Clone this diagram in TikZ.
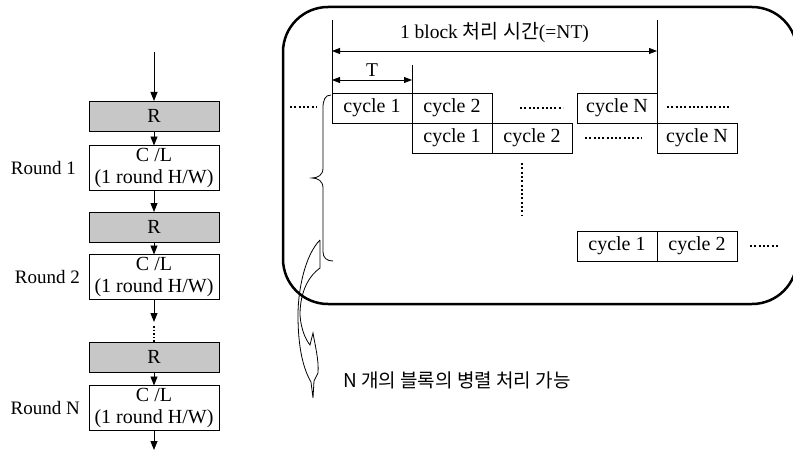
\documentclass[tikz,border=0pt]{standalone}
\usepackage{fontspec}
\setmainfont{Liberation Serif}
\newfontfamily\krfont{Noto Sans CJK KR}
\usetikzlibrary{positioning,arrows.meta}
\tikzset{
  rbox/.style  ={rectangle, draw=black, fill=black!22, line width=0.8pt, minimum width=130pt,
                 minimum height=30pt, inner sep=0pt, outer sep=0pt, font=\fontsize{20}{20}\selectfont},
  clbox/.style ={rectangle, draw=black, fill=white, line width=0.8pt, minimum width=130pt,
                 minimum height=45pt, inner sep=0pt, outer sep=0pt, align=center,
                 font=\fontsize{20}{22}\selectfont},
  rlab/.style  ={inner sep=0pt, font=\fontsize{19}{19}\selectfont},
  cyc/.style   ={rectangle, draw=black, line width=0.8pt, minimum width=80pt, minimum height=30pt,
                 inner sep=0pt, outer sep=0pt, font=\fontsize{20}{20}\selectfont},
  arr/.style   ={-{Triangle[length=9pt,width=7pt]}, line width=0.9pt},
  dimarr/.style={{Triangle[length=8pt,width=6pt]}-{Triangle[length=8pt,width=6pt]}, line width=0.8pt},
  dimtick/.style={line width=0.8pt},
  dotrow/.style={line width=2pt, dash pattern=on 2pt off 2.3pt},
  bigframe/.style={line width=2.5pt, rounded corners=45pt},
  lbl/.style   ={inner sep=0pt, font=\fontsize{19.5}{19.5}\selectfont},
}
\newcommand{\hw}{(1 round H/W)}

\begin{document}
\begin{tikzpicture}[x=1pt,y=-1pt]
  \useasboundingbox (0,0) rectangle (793,452);
  % round pipeline
  \node[rbox]  (r1)  at (154,116) {R};
  \node[clbox] (cl1) at (154,168) {C /L\\\hw};
  \node[rbox]  (r2)  at (154,227) {R};
  \node[clbox] (cl2) at (154,277) {C /L\\\hw};
  \node[rbox]  (r3)  at (154,357) {R};
  \node[clbox] (cl3) at (154,408) {C /L\\\hw};
  \node[rlab, left=13pt of cl1] (lab1) {Round 1};
  \node[rlab, left=9pt of cl2]  (lab2) {Round 2};
  \node[rlab, left=9pt of cl3]  (labN) {Round N};
  \coordinate (in)  at (154,52);
  \coordinate (gap) at (154,322);
  \coordinate (out) at (154,450);
  \draw[arr] (in) -- (r1);
  \draw[arr] (r1) -- (cl1);
  \draw[arr] (cl1) -- (r2);
  \draw[arr] (r2) -- (cl2);
  \draw[arr] (cl2) -- (gap);
  \draw[line width=1.6pt, dash pattern=on 1.6pt off 2pt] ([yshift=-4pt]gap) -- (r3);
  \draw[arr] (r3) -- (cl3);
  \draw[arr] (cl3) -- (out);

  % parallel blocks
  \draw[bigframe] (283,7) rectangle (797,304);
  \node[cyc] (a1) at (372,108) {cycle 1};
  \node[cyc, right=0pt of a1] (a2) {cycle 2};
  \node[cyc] (aN) at (617,108) {cycle N};
  \node[cyc, anchor=north west] (b1) at (a1.south east) {cycle 1};
  \node[cyc, right=0pt of b1] (b2) {cycle 2};
  \node[cyc, anchor=north west] (bN) at (aN.south east) {cycle N};
  \node[cyc] (c1) at (617,246) {cycle 1};
  \node[cyc, right=0pt of c1] (c2) {cycle 2};

  \draw[dimtick] (a1.north west) -- ++(0,-73);
  \draw[dimtick] (aN.north east) -- ++(0,-73);
  \draw[dimtick] (a2.north west) -- ++(0,-28);
  \draw[dimarr] (a1.north west |- 0,51) -- (aN.north east |- 0,51)
    node[lbl, midway, anchor=base, yshift=12pt] (nt) {1 block {\krfont 처리 시간}(=NT)};
  \draw[dimarr] (a1.north west |- 0,80) -- (a2.north west |- 0,80)
    node[lbl, midway, anchor=base, yshift=3pt] (t) {T};

  \draw[dotrow] ([xshift=-42pt,yshift=1pt]a1.west) -- ([xshift=-15pt,yshift=1pt]a1.west);
  \draw[dotrow] ([xshift=28pt]a2.east) -- ([xshift=-14pt]aN.west);
  \draw[dotrow] ([xshift=10pt,yshift=1pt]aN.east) -- ++(63,0);
  \draw[dotrow] ([xshift=13pt]b2.east) -- ([xshift=-15pt]bN.west);
  \draw[dotrow] (522,163) -- (522,215);
  \draw[dotrow] ([xshift=13pt]c2.east) -- ++(30,0);

  % brace and curved arrow
  \draw[line width=0.8pt] (331,95) .. controls (325,95) and (323,100) .. (323,108) -- (323,168)
    .. controls (323,175) and (318,178) .. (312,178) .. controls (318,178) and (323,181) .. (323,188)
    -- (323,252) .. controls (323,258) and (327,261) .. (333,261);
  \draw[line width=0.8pt] (320,240) -- (320,268) .. controls (310,275) and (300,290) .. (300,315)
    .. controls (301,330) and (306,340) .. (310,345) -- (313,333)
    .. controls (315,345) and (319,360) .. (318,373) -- (314,381) -- (313,398) -- (311,382)
    .. controls (304,370) and (298,350) .. (298,315) .. controls (298,290) and (305,255) .. (320,240);
  \node[anchor=west, inner sep=0pt, font=\krfont\fontsize{19}{19}\selectfont] (par) at (343,380)
    {N 개의 블록의 병렬 처리 가능};
\end{tikzpicture}
\end{document}
